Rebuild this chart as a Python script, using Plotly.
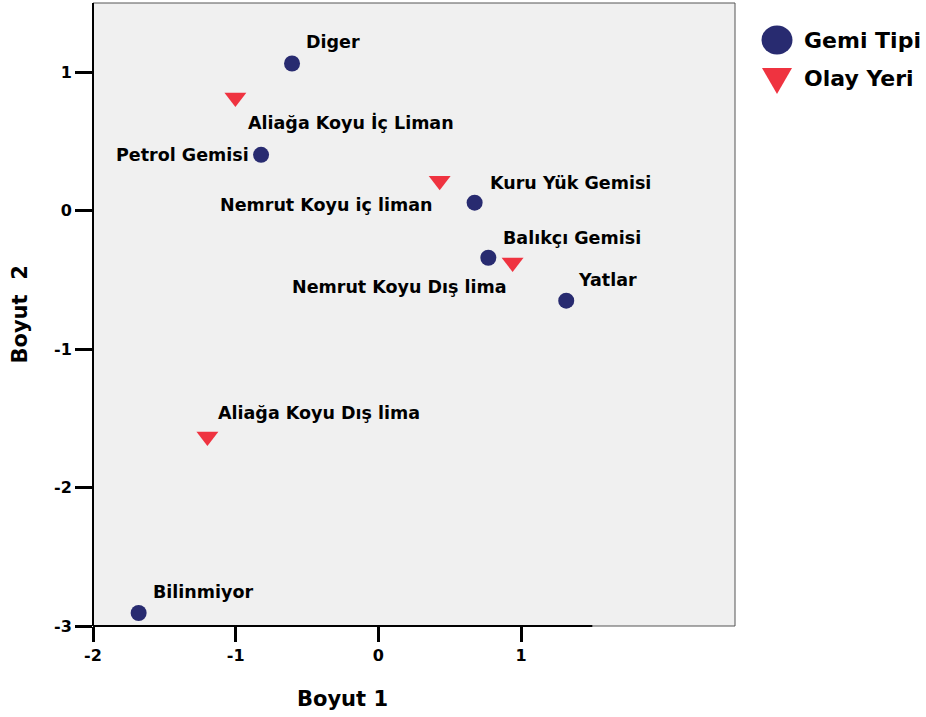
import plotly.graph_objects as go

# Boyut 1 / Boyut 2 coordinates of the two category sets
gemi_labels = ["Diger", "Petrol Gemisi", "Kuru Yük Gemisi", "Balıkçı Gemisi", "Yatlar", "Bilinmiyor"]
gemi_x = [-0.605, -0.822, 0.675, 0.771, 1.317, -1.680]
gemi_y = [1.063, 0.403, 0.058, -0.340, -0.650, -2.906]

olay_labels = ["Aliağa Koyu İç Liman", "Nemrut Koyu iç liman", "Nemrut Koyu Dış lima", "Aliağa Koyu Dış lima"]
olay_x = [-1.002, 0.430, 0.941, -1.198]
olay_y = [0.817, 0.216, -0.374, -1.631]

x_ticks = [-2, -1, 0, 1]
y_ticks = [1, 0, -1, -2, -3]

NAVY = "#282b70"
RED = "#ef3340"
FONT = "DejaVu Sans, Liberation Sans, Arial, sans-serif"

# label placement per point: (xanchor, xshift, yshift)
gemi_pos = [("left", 12, 22), ("right", -10, 0), ("left", 13, 20),
            ("left", 13, 20), ("left", 10, 21), ("left", 12, 21)]
olay_pos = [("left", 11, -25), ("right", -5, -24), ("right", -4, -25), ("left", 9, 23)]

fig = go.Figure()
fig.add_trace(go.Scatter(x=gemi_x, y=gemi_y, mode="markers", name="Gemi Tipi",
                         marker=dict(symbol="circle", size=16, color=NAVY),
                         showlegend=False, cliponaxis=False))
fig.add_trace(go.Scatter(x=olay_x, y=olay_y, mode="markers", name="Olay Yeri",
                         marker=dict(symbol="triangle-down", size=19, color=RED),
                         showlegend=False, cliponaxis=False))

annotations = []
for labels, xs, ys, pos in [(gemi_labels, gemi_x, gemi_y, gemi_pos),
                            (olay_labels, olay_x, olay_y, olay_pos)]:
    for t, x, y, (xa, dx, dy) in zip(labels, xs, ys, pos):
        annotations.append(dict(x=x, y=y, xref="x", yref="y", text=t,
                                showarrow=False, xanchor=xa, yanchor="middle",
                                xshift=dx, yshift=dy,
                                font=dict(family=FONT, size=17.5, color="black", weight="bold")))

# axis titles
annotations.append(dict(x=-0.25, y=-0.1, xref="x", yref="paper", yanchor="top",
                        yshift=3, text="Boyut 1", showarrow=False,
                        font=dict(family=FONT, size=21, color="black", weight="bold")))
annotations.append(dict(x=-0.137, y=0.5, xref="paper", yref="paper",
                        text="Boyut  2", showarrow=False, textangle=-90,
                        font=dict(family=FONT, size=21, color="black", weight="bold")))

# legend entries
L, R, T, B = 93, 191, 3, 91
PW, PH = 926 - L - R, 717 - T - B
def px(xp):
    return (xp - L) / PW
def py(yp):
    return (717 - B - yp) / PH

legend_items = [("Gemi Tipi", 40), ("Olay Yeri", 79)]
shapes = [
    dict(type="circle", xref="paper", yref="paper", xsizemode="pixel", ysizemode="pixel",
         xanchor=px(777), yanchor=py(40), x0=-15.5, x1=15.5, y0=-14.5, y1=14.5,
         fillcolor=NAVY, line=dict(width=0)),
    dict(type="path", xref="paper", yref="paper", xsizemode="pixel", ysizemode="pixel",
         xanchor=px(777), yanchor=py(80), path="M-15,12 L15,12 L0,-14 Z",
         fillcolor=RED, line=dict(width=0)),
    # plot frame
    dict(type="rect", xref="paper", yref="paper", x0=0, x1=1, y0=0, y1=1,
         line=dict(color="#555555", width=1), layer="below"),
    # axis lines
    dict(type="line", xref="x", yref="paper", x0=-2, x1=1.5, y0=0, y1=0,
         line=dict(color="black", width=2)),
    dict(type="line", xref="paper", yref="paper", x0=0, x1=0, y0=0, y1=1,
         line=dict(color="black", width=2)),
]
for name, yp in legend_items:
    annotations.append(dict(x=px(802), y=py(yp), xref="paper", yref="paper",
                            xanchor="left", yanchor="middle", text=name,
                            showarrow=False,
                            font=dict(family=FONT, size=22, color="black", weight="bold")))

tickfont = dict(family=FONT, size=16, color="black", weight="bold")
fig.update_layout(
    width=926, height=717,
    margin=dict(l=L, r=R, t=T, b=B),
    paper_bgcolor="white", plot_bgcolor="#f0f0f0",
    annotations=annotations, shapes=shapes,
    xaxis=dict(range=[-2, 2.5], tickvals=x_ticks, ticktext=[str(v) for v in x_ticks],
               showgrid=False, zeroline=False, showline=False,
               ticks="outside", ticklen=15, tickwidth=2.5, tickcolor="black",
               tickfont=tickfont, fixedrange=True),
    yaxis=dict(range=[-3, 1.5], tickvals=y_ticks, ticktext=[str(v) for v in y_ticks],
               showgrid=False, zeroline=False, showline=False,
               ticks="outside", ticklen=17, tickwidth=2.5, tickcolor="black",
               tickfont=tickfont, fixedrange=True),
    showlegend=False,
)

fig.write_html("out.html")
